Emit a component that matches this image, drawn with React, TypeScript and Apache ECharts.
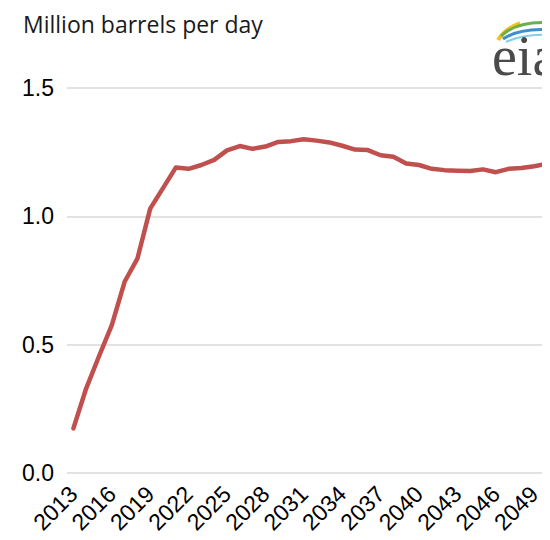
import React, { useEffect, useRef } from "react";
import * as echarts from "echarts";

const years: string[] = [];
for (let y = 2013; y <= 2050; y++) years.push(String(y));

const production = [
  0.174, 0.33, 0.455, 0.576, 0.745, 0.835, 1.03, 1.11, 1.19, 1.185,
  1.2, 1.22, 1.257, 1.274, 1.263, 1.272, 1.29, 1.293, 1.3, 1.295,
  1.288, 1.275, 1.26, 1.258, 1.238, 1.232, 1.206, 1.2, 1.185, 1.18,
  1.178, 1.177, 1.183, 1.172, 1.185, 1.188, 1.195, 1.205,
];

const yTicks = [0, 0.5, 1.0, 1.5];

export default function App() {
  const ref = useRef<HTMLDivElement>(null);
  useEffect(() => {
    if (!ref.current) return;
    const chart = echarts.init(ref.current, undefined, { renderer: "svg" });
    chart.setOption({
      animation: false,
      backgroundColor: "#ffffff",
      grid: { left: 59, right: 4.6, top: 80, bottom: 75 },
      graphic: [
        {
          type: "text",
          left: 15,
          top: 4,
          style: {
            text: "Million barrels per day",
            font: '23px "Open Sans", sans-serif',
            fill: "#1a1a1a",
          },
        },
        { type: "bezierCurve", shape: { x1: 490, y1: 32, cpx1: 497, cpy1: 21, x2: 512, y2: 15 }, style: { stroke: "#f2c21b", lineWidth: 4, fill: "none" } },
        { type: "bezierCurve", shape: { x1: 493, y1: 28, cpx1: 510, cpy1: 12, x2: 545, y2: 15 }, style: { stroke: "#6ab04c", lineWidth: 3, fill: "none" } },
        { type: "bezierCurve", shape: { x1: 495, y1: 31, cpx1: 513, cpy1: 19, x2: 545, y2: 22 }, style: { stroke: "#3d8fd0", lineWidth: 3, fill: "none" } },
        { type: "bezierCurve", shape: { x1: 498, y1: 34, cpx1: 516, cpy1: 25, x2: 545, y2: 27 }, style: { stroke: "#7fd0ea", lineWidth: 2, fill: "none" } },
        {
          type: "text",
          x: 484,
          y: 20,
          style: {
            text: "eia",
            font: '56px "Liberation Serif", "DejaVu Serif", serif',
            fill: "#4a4a4a",
          },
        },
      ],
      xAxis: {
        type: "category",
        data: years,
        boundaryGap: true,
        axisLine: { show: false },
        axisTick: { show: false },
        axisLabel: {
          interval: 2,
          rotate: 45,
          margin: 17,
          fontSize: 23,
          color: "#000",
          fontFamily: '"Liberation Sans", Arial, sans-serif',
        },
        splitLine: { show: false },
      },
      yAxis: {
        type: "value",
        min: yTicks[0],
        max: yTicks[yTicks.length - 1],
        interval: 0.5,
        axisLine: { show: false },
        axisTick: { show: false },
        axisLabel: {
          margin: 13,
          fontSize: 23,
          color: "#000",
          fontFamily: '"Liberation Sans", Arial, sans-serif',
          formatter: (v: number) => v.toFixed(1),
        },
        splitLine: { lineStyle: { color: "#d9d9d9", width: 1.5 } },
      },
      series: [
        {
          type: "line",
          data: production,
          showSymbol: false,
          symbol: "none",
          lineStyle: { color: "#c0504d", width: 4.5, cap: "round", join: "round" },
        },
      ],
    });
    return () => chart.dispose();
  }, []);
  return <div ref={ref} style={{ width: 550, height: 540 }} />;
}
